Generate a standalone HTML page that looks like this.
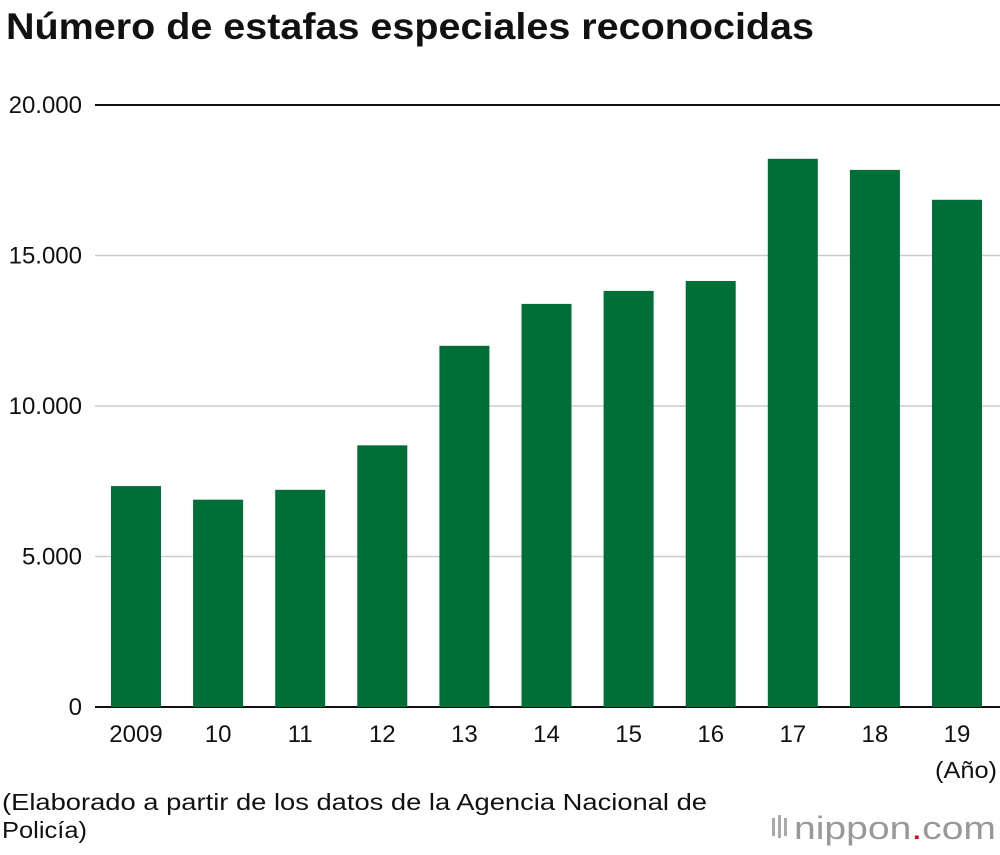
<!DOCTYPE html>
<html><head><meta charset="utf-8"><style>
body{margin:0;background:#fff;width:1000px;height:850px;overflow:hidden;font-family:"Liberation Sans",sans-serif;}
</style></head><body>
<svg width="1000" height="850" xmlns="http://www.w3.org/2000/svg" font-family="Liberation Sans, sans-serif">
<text x="6" y="39" font-size="37" font-weight="bold" fill="#111" textLength="808" lengthAdjust="spacingAndGlyphs">Número de estafas especiales reconocidas</text>
<g id="grid"></g>
<g id="bars"></g>
<g id="xlabels"></g>
<text x="997" y="778" font-size="23" text-anchor="end" fill="#111" textLength="62" lengthAdjust="spacingAndGlyphs">(Año)</text>
<text x="2" y="810" font-size="23" fill="#111" textLength="705" lengthAdjust="spacingAndGlyphs">(Elaborado a partir de los datos de la Agencia Nacional de</text>
<text x="2" y="838" font-size="23" fill="#111" textLength="85" lengthAdjust="spacingAndGlyphs">Policía)</text>
<g>
<rect x="772" y="818" width="3" height="18" fill="#aaa"/><rect x="778" y="815" width="3" height="23" fill="#aaa"/><rect x="784" y="818" width="3" height="18" fill="#aaa"/>
<text x="794" y="839" font-size="32" fill="#999" textLength="202" lengthAdjust="spacingAndGlyphs">nippon<tspan fill="#e60012">.</tspan>com</text>
</g>
</svg>
<script>
const categories=["2009","10","11","12","13","14","15","16","17","18","19"];
const values=[7340,6888,7216,8693,12000,13392,13824,14154,18212,17844,16851];
const yTicks=[0,5000,10000,15000,20000];
const yTickLabels=["0","5.000","10.000","15.000","20.000"];
const NS="http://www.w3.org/2000/svg";
const y0=707,y1=105,yMax=20000;
const y=v=>y0-(v/yMax)*(y0-y1);
const x=i=>111+i*82.1;
const bw=50;
const grid=document.getElementById('grid'),bars=document.getElementById('bars'),xl=document.getElementById('xlabels');
function mk(tag,attrs,parent){const e=document.createElementNS(NS,tag);for(const k in attrs)e.setAttribute(k,attrs[k]);parent.appendChild(e);return e;}
yTicks.forEach((t,i)=>{
  const l=mk('line',{x1:95,x2:1000,y1:y(t),y2:y(t),stroke:(t===0||t===yMax)?'#111':'#ccc','stroke-width':(t===0||t===yMax)?2:1.5},grid);
  
  
  const tx=mk('text',{x:82,y:y(t)+8,'font-size':24,'text-anchor':'end',fill:'#111'},grid);
  tx.textContent=yTickLabels[i];
  
  
});
categories.forEach((c,i)=>{
  const r=mk('rect',{x:x(i),y:y(values[i]),width:bw,height:y0-y(values[i]),fill:'#006f37'},bars);
  
  
  const t=mk('text',{x:x(i)+bw/2,y:742,'font-size':24,'text-anchor':'middle',fill:'#111'},xl);
  t.textContent=c;
  
  
});
mk('line',{x1:95,x2:1000,y1:y0,y2:y0,stroke:'#111','stroke-width':2},grid);
</script>
</body></html>
